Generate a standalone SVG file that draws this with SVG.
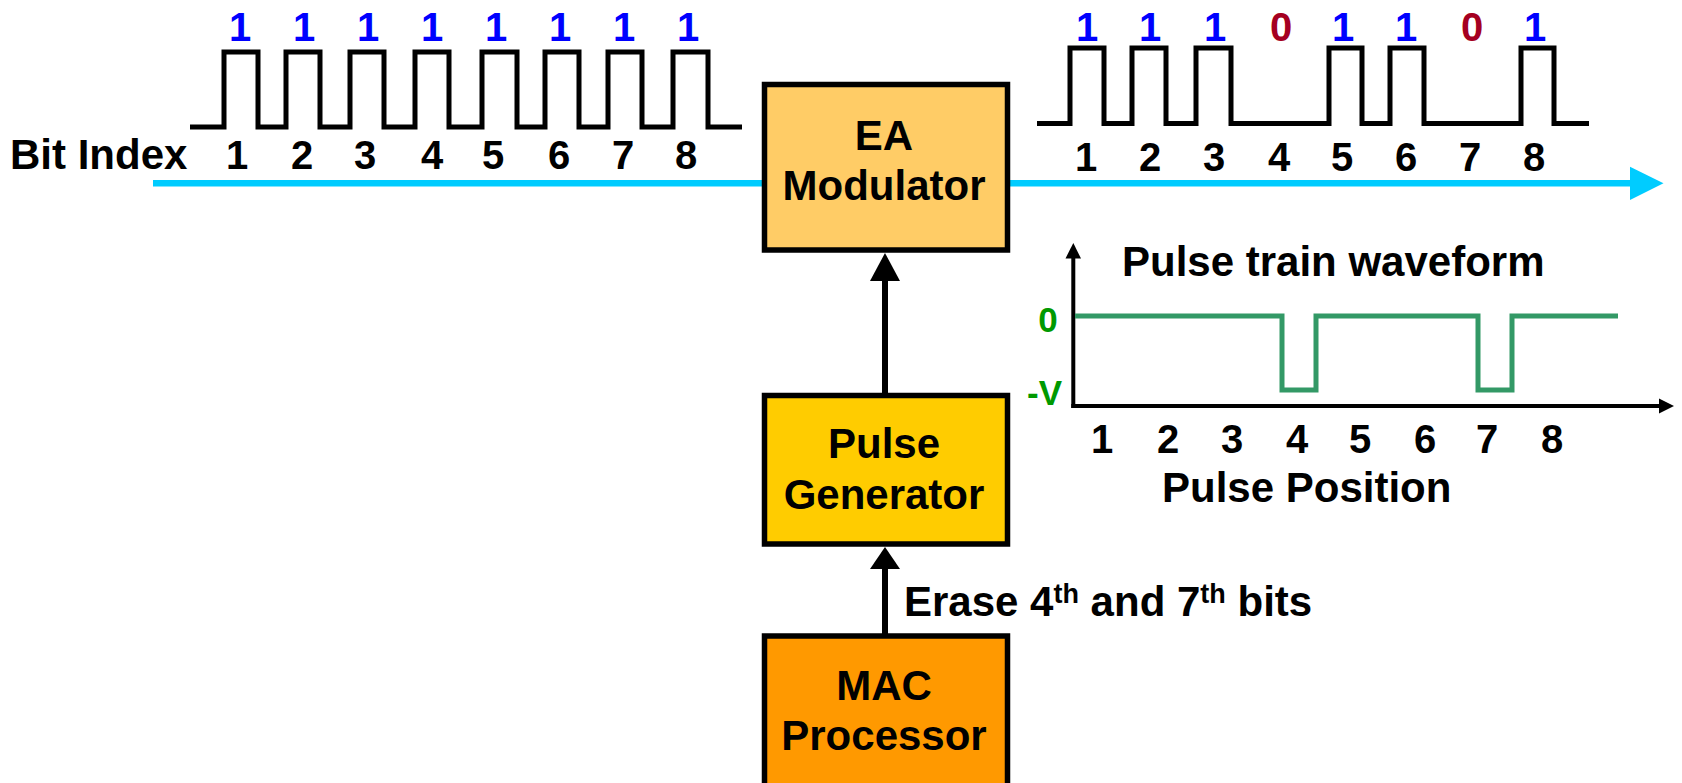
<svg xmlns="http://www.w3.org/2000/svg" width="1682" height="783" viewBox="0 0 1682 783">
<style>
text{font-family:"Liberation Sans",Arial,sans-serif;font-weight:bold;}
.lbl{font-size:42px;fill:#000;}
.num{font-size:40px;fill:#000;text-anchor:middle;}
.one{font-size:40px;fill:#0000FF;text-anchor:middle;}
.zero{font-size:40px;fill:#A50021;text-anchor:middle;}
.box{font-size:42px;fill:#000;text-anchor:middle;}
.grn{font-size:35px;fill:#009900;}
.node{stroke:#000;stroke-width:5.5;}
.train{fill:none;stroke:#000;stroke-width:5;stroke-linejoin:miter;}
.conn{stroke:#000;stroke-width:6;fill:none;}
.axis{stroke:#000;stroke-width:4;fill:none;}
</style>
<rect width="1682" height="783" fill="#fff"/>
<g id="connectors">
  <line x1="153" y1="183.3" x2="1632" y2="183.3" stroke="#00CCFF" stroke-width="6.5"/>
  <polygon points="1630,166.7 1663.5,183.3 1630,200" fill="#00CCFF"/>
  <line class="conn" x1="885" y1="395" x2="885" y2="278"/>
  <polygon points="870,281 885,253 900,281" fill="#000"/>
  <line class="conn" x1="885" y1="636" x2="885" y2="566"/>
  <polygon points="870,569 885,547 900,569" fill="#000"/>
</g>
<g id="input-train">
  <path class="train" d="M190,127 H224 V52 H258 V127 H286 V52 H320 V127 H350 V52 H384 V127 H415 V52 H449 V127 H482 V52 H517 V127 H545 V52 H579 V127 H608 V52 H642 V127 H673 V52 H708 V127 H742"/>
  <text class="one" x="240" y="41">1</text>
  <text class="one" x="304" y="41">1</text>
  <text class="one" x="368" y="41">1</text>
  <text class="one" x="432" y="41">1</text>
  <text class="one" x="496" y="41">1</text>
  <text class="one" x="560" y="41">1</text>
  <text class="one" x="624" y="41">1</text>
  <text class="one" x="688" y="41">1</text>
  <text class="lbl" x="10" y="169">Bit Index</text>
  <text class="num" x="237" y="168.5">1</text>
  <text class="num" x="302" y="168.5">2</text>
  <text class="num" x="365" y="168.5">3</text>
  <text class="num" x="432" y="168.5">4</text>
  <text class="num" x="493" y="168.5">5</text>
  <text class="num" x="559" y="168.5">6</text>
  <text class="num" x="623" y="168.5">7</text>
  <text class="num" x="686" y="168.5">8</text>
</g>
<g id="output-train">
  <path class="train" d="M1037,123.5 H1070 V48 H1104 V123.5 H1132 V48 H1166 V123.5 H1196 V48 H1231 V123.5 H1329 V48 H1362 V123.5 H1390 V48 H1424 V123.5 H1521 V48 H1554 V123.5 H1589"/>
  <text class="one" x="1087" y="41">1</text>
  <text class="one" x="1150" y="41">1</text>
  <text class="one" x="1215" y="41">1</text>
  <text class="zero" x="1281" y="41">0</text>
  <text class="one" x="1343" y="41">1</text>
  <text class="one" x="1406" y="41">1</text>
  <text class="zero" x="1472" y="41">0</text>
  <text class="one" x="1535" y="41">1</text>
  <text class="num" x="1086" y="170.5">1</text>
  <text class="num" x="1150" y="170.5">2</text>
  <text class="num" x="1214" y="170.5">3</text>
  <text class="num" x="1279" y="170.5">4</text>
  <text class="num" x="1342" y="170.5">5</text>
  <text class="num" x="1406" y="170.5">6</text>
  <text class="num" x="1470" y="170.5">7</text>
  <text class="num" x="1534" y="170.5">8</text>
</g>
<g id="ea-modulator">
  <rect class="node" x="764.5" y="84.5" width="243" height="165.5" fill="#FFCC66"/>
  <text class="box" x="884" y="149.5">EA</text>
  <text class="box" x="884" y="200">Modulator</text>
</g>
<g id="pulse-generator">
  <rect class="node" x="764.5" y="395.5" width="243" height="148.5" fill="#FFCC00"/>
  <text class="box" x="884" y="457.5">Pulse</text>
  <text class="box" x="884" y="509">Generator</text>
</g>
<g id="mac-processor">
  <rect class="node" x="764.5" y="636" width="243" height="200" fill="#FF9900"/>
  <text class="box" x="884" y="700">MAC</text>
  <text class="box" x="884" y="750">Processor</text>
</g>
<g id="erase-label">
  <text class="lbl" x="904" y="615.7">Erase 4<tspan font-size="27" dy="-13">th</tspan><tspan dy="13"> and 7</tspan><tspan font-size="27" dy="-13">th</tspan><tspan dy="13"> bits</tspan></text>
</g>
<g id="waveform">
  <line class="axis" x1="1073.3" y1="408" x2="1073.3" y2="256"/>
  <polygon points="1065.5,258.5 1073.3,243 1081,258.5" fill="#000"/>
  <line class="axis" x1="1071.3" y1="406" x2="1661" y2="406"/>
  <polygon points="1659,398.5 1674,406 1659,413.5" fill="#000"/>
  <path d="M1075,316 H1282 V390 H1316 V316 H1478 V390 H1512 V316 H1618" fill="none" stroke="#339966" stroke-width="5"/>
  <text class="lbl" x="1122" y="275.5">Pulse train waveform</text>
  <text class="grn" x="1048" y="332" text-anchor="middle">0</text>
  <text class="grn" x="1062" y="404.5" text-anchor="end">-V</text>
  <text class="num" x="1102" y="453">1</text>
  <text class="num" x="1168" y="453">2</text>
  <text class="num" x="1232" y="453">3</text>
  <text class="num" x="1297" y="453">4</text>
  <text class="num" x="1360" y="453">5</text>
  <text class="num" x="1425" y="453">6</text>
  <text class="num" x="1487" y="453">7</text>
  <text class="num" x="1552" y="453">8</text>
  <text class="lbl" x="1162" y="501.5">Pulse Position</text>
</g>
</svg>
